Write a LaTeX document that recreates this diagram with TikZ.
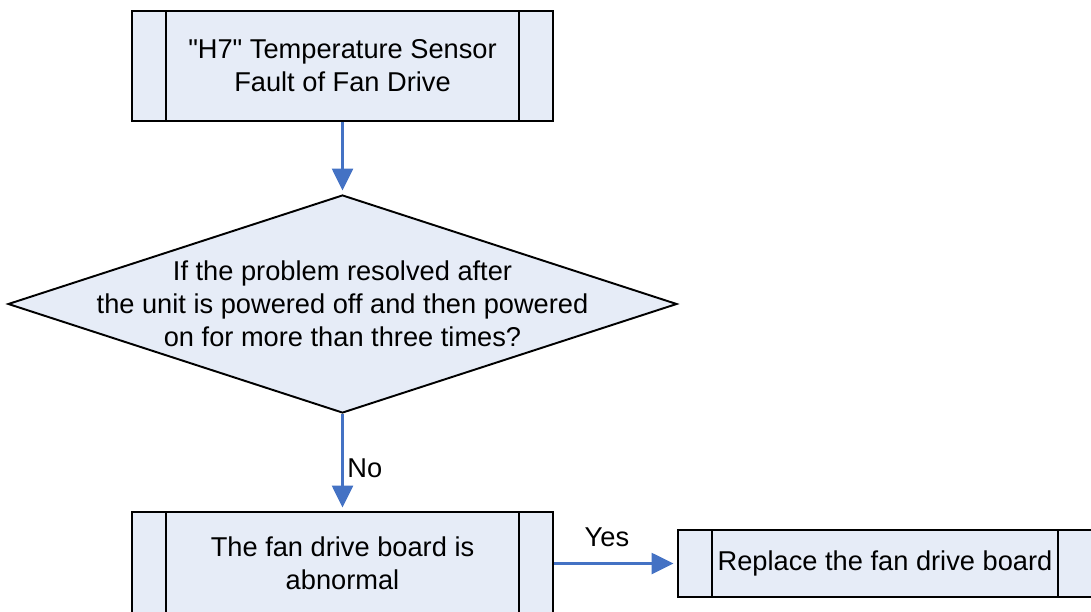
\documentclass[tikz,border=0pt]{standalone}
\usepackage{fontspec}
\setmainfont{Liberation Sans}
\usetikzlibrary{shapes.geometric, positioning, arrows.meta}
\definecolor{boxfill}{RGB}{230,236,247}
\definecolor{flowblue}{RGB}{68,114,196}

\begin{document}
\begin{tikzpicture}[
    font=\fontsize{15.5pt}{18.8pt}\selectfont,
    result/.style={rectangle, draw=black, line width=1.1pt, fill=boxfill,
        text centered, align=center, text=black,
        minimum width=8.42cm, minimum height=2.2cm,
        path picture={
            \draw[line width=1.1pt] ([xshift=0.68cm]path picture bounding box.north west)
                -- ([xshift=0.68cm]path picture bounding box.south west);
            \draw[line width=1.1pt] ([xshift=-0.68cm]path picture bounding box.north east)
                -- ([xshift=-0.68cm]path picture bounding box.south east);
        }},
    question/.style={diamond, draw=black, line width=1.1pt, fill=boxfill, inner sep=0pt,
        minimum width=13.38cm, minimum height=4.36cm, text=black},
    answer/.style={rectangle, draw=none, fill=none, inner sep=2pt, text=black},
    flow/.style={-{Triangle[length=0.44cm, width=0.42cm]}, color=flowblue,
        line width=1.5pt, shorten >=2pt}
]
\useasboundingbox (0,0) rectangle (21.82,-12.24);

\node (Fault00) [result] at (6.85,-1.32)
    {\textquotedbl H7\textquotedbl{} Temperature Sensor\\Fault of Fan Drive};
\node (Q01) [question, label={[align=center]center:If the problem resolved after\\
    the unit is powered off and then powered\\on for more than three times?}]
    at (6.85,-6.08) {};
\node (R02) [result, minimum height=2.06cm] at (6.85,-11.27) {The fan drive board is\\abnormal};
\node (R03) [result, minimum width=8.28cm, minimum height=1.34cm] at (17.70,-11.27)
    {Replace the fan drive board};

\draw [flow] (Fault00) -- (Q01);
\draw [flow] (Q01) -- node (A02) [answer, right, pos=0.56] {No} (R02);
\draw [flow] (R02) -- node (A03) [answer, above=7pt, pos=0.43] {Yes} (R03);

\end{tikzpicture}
\end{document}
